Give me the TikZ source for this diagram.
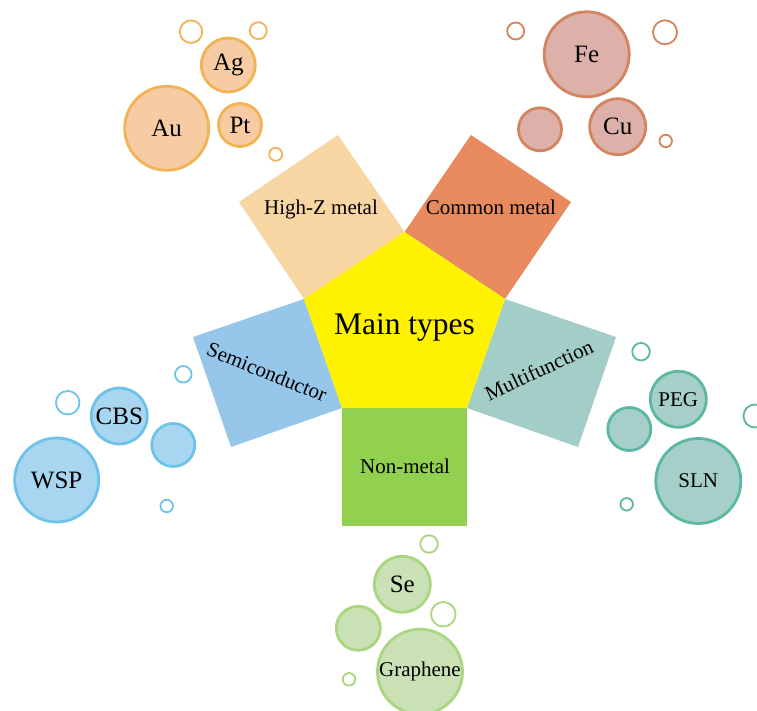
\documentclass[tikz,border=0pt]{standalone}
\usepackage{fontspec}
\setmainfont{Liberation Serif}
\definecolor{hzC}{HTML}{F8D6A4}
\definecolor{cmC}{HTML}{E8895E}
\definecolor{scC}{HTML}{96C6EA}
\definecolor{mfC}{HTML}{A3CEC7}
\definecolor{nmC}{HTML}{92D050}
\definecolor{goldF}{HTML}{F7CBA3}
\definecolor{goldD}{HTML}{F0B455}
\definecolor{pinkF}{HTML}{DDB0A9}
\definecolor{pinkD}{HTML}{D4845F}
\definecolor{blueF}{HTML}{A8D5EF}
\definecolor{blueD}{HTML}{6DC4E8}
\definecolor{tealF}{HTML}{A5CFC8}
\definecolor{tealD}{HTML}{5DB8A2}
\definecolor{greenF}{HTML}{C9E1B5}
\definecolor{greenD}{HTML}{A9D67F}
\tikzset{
  bub/.style={circle, inner sep=0pt, line width=2.8pt, text=black, font=\fontsize{25}{30}\selectfont},
  bubs/.style={bub, font=\fontsize{21}{25}\selectfont},
  ring/.style={circle, inner sep=0pt, line width=1.8pt, fill=white},
  gold/.style={fill=goldF, draw=goldD},
  pink/.style={fill=pinkF, draw=pinkD},
  blue/.style={fill=blueF, draw=blueD},
  teal/.style={fill=tealF, draw=tealD},
  green/.style={fill=greenF, draw=greenD},
  lab/.style={font=\fontsize{21}{25}\selectfont, text=black, inner sep=0pt}
}
\begin{document}
\begin{tikzpicture}[x=1pt,y=-1pt]
\useasboundingbox[fill=white] (0,0) rectangle (757,711);
% pentagon corners
\coordinate (T) at (404.5,232);
\coordinate (UL) at (304,299);
\coordinate (UR) at (505,299);
\coordinate (LL) at (342,408);
\coordinate (LR) at (467,408);
% squares
\fill[hzC] (UL) -- (T) -- (338,135) -- (239,202) -- cycle;
\fill[cmC] (T) -- (UR) -- (571,202) -- (471,135) -- cycle;
\fill[scC] (UL) -- (LL) -- (231,447) -- (193,337) -- cycle;
\fill[mfC] (UR) -- (LR) -- (578,447) -- (616,337) -- cycle;
\fill[nmC] (LL) -- (LR) -- (467,526) -- (342,526) -- cycle;
\fill[yellow] (T) -- (UR) -- (LR) -- (LL) -- (UL) -- cycle;
% labels
\node[font=\fontsize{31.5}{36}\selectfont, inner sep=0pt] (main) at (404.5,327) {Main types};
\node[lab] (hz) at (321,209) {High-Z metal};
\node[lab] (cm) at (491,207) {Common metal};
\node[lab, rotate=-22] (sc) at (267,372) {Semiconductor};
\node[lab, rotate=25] (mf) at (539,370) {Multifunction};
\node[lab] (nm) at (405,466) {Non-metal};
% gold bubbles
\node[bub, gold, minimum size=84pt] (au) at (166.7,128.3) {Au};
\node[bub, gold, minimum size=54pt] (ag) at (228.3,65) {Ag};
\node[bub, gold, minimum size=43pt] (pt) at (240,125) {Pt};
\node[ring, draw=goldD, minimum size=22.5pt] (g1) at (191,31.7) {};
\node[ring, draw=goldD, minimum size=17pt] (g2) at (258.3,30.7) {};
\node[ring, draw=goldD, minimum size=13pt] (g3) at (275.7,154.3) {};
% pink bubbles
\node[bub, pink, minimum size=85pt] (fe) at (586.7,54.3) {Fe};
\node[bub, pink, minimum size=56pt] (cu) at (617.7,126.7) {Cu};
\node[bub, pink, minimum size=43pt] (p0) at (540,129.3) {};
\node[ring, draw=pinkD, minimum size=17pt] (p1) at (515.7,31) {};
\node[ring, draw=pinkD, minimum size=24pt] (p2) at (665,32.3) {};
\node[ring, draw=pinkD, minimum size=12.5pt] (p3) at (665.7,141) {};
% blue bubbles
\node[bub, blue, minimum size=84pt] (wsp) at (56.7,480) {WSP};
\node[bub, blue, minimum size=56pt] (cbs) at (119.3,416) {CBS};
\node[bub, blue, minimum size=43pt] (b0) at (173.3,445) {};
\node[ring, draw=blueD, minimum size=23.5pt] (b1) at (67.7,402.7) {};
\node[ring, draw=blueD, minimum size=16.5pt] (b2) at (183.3,374.3) {};
\node[ring, draw=blueD, minimum size=12.5pt] (b3) at (166.7,506) {};
% teal bubbles
\node[bubs, teal, minimum size=56pt] (peg) at (678.3,399.3) {PEG};
\node[bubs, teal, minimum size=85pt] (sln) at (698.3,481) {SLN};
\node[bub, teal, minimum size=43pt] (t0) at (629.3,429) {};
\node[ring, draw=tealD, minimum size=17.5pt] (t1) at (641,351.7) {};
\node[ring, draw=tealD, minimum size=23pt] (t2) at (755,416) {};
\node[ring, draw=tealD, minimum size=12.5pt] (t3) at (626.7,504.3) {};
% green bubbles
\node[bub, green, minimum size=56pt] (se) at (402.3,584.3) {Se};
\node[bubs, green, minimum size=85pt] (gr) at (420,671.7) {Graphene};
\node[bub, green, minimum size=44pt] (e0) at (358.3,628.3) {};
\node[ring, draw=greenD, minimum size=17.5pt] (e1) at (429,544) {};
\node[ring, draw=greenD, minimum size=24.5pt] (e2) at (443.3,614.3) {};
\node[ring, draw=greenD, minimum size=12.5pt] (e3) at (349,679.3) {};
\end{tikzpicture}
\end{document}
